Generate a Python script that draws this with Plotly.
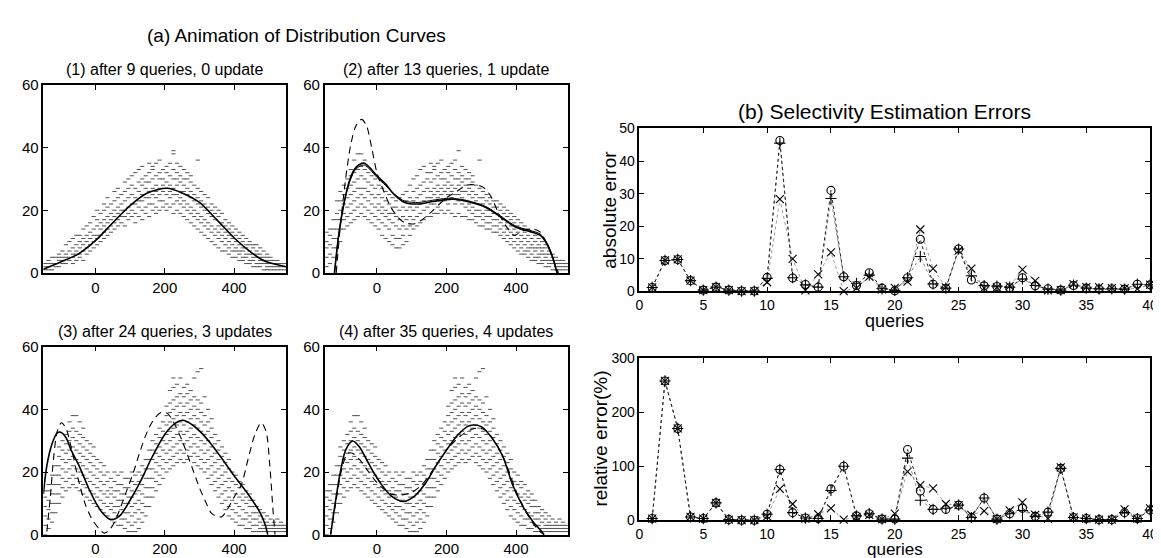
import plotly.graph_objects as go

W, H = 1161, 558
FONT = "Liberation Sans, Arial, Helvetica, sans-serif"

# ---------------- data: left panels (distribution curves) ----------------
cloud_x = list(range(-145, 550, 10))  # column centres of the data-point cloud

cloud_a = [  # panel (1)
    [1,2,3],[1,2,3,4],[1,3,5],[2,3,5],[2,4,5,6],[3,4,5,7],[3,5,6,9],[4,5,7,10],
    [3,5,6,8,11],[4,6,7,9,12],[5,6,8,10,12],[4,7,9,11,14],[6,8,10,12,15],[7,9,11,13,16],
    [8,10,12,14,18],[9,11,12,15,17,20],[10,12,14,16,19],[11,13,15,17,20,22],[12,14,16,18,21,24],
    [13,15,17,19,22],[14,16,18,20,23,26],[15,17,19,21,24,27],[16,18,20,22,25],[15,18,20,23,26,29],
    [17,19,21,24,27,30],[18,20,22,25,28,31],[16,19,22,24,27,32],[18,21,23,26,29,33],
    [17,20,23,25,28,30,34],[19,21,24,27,29,31],[18,22,24,26,29,32,35],[20,22,25,27,30,33,34],
    [19,21,24,26,28,31,35],[20,23,25,27,30,32,36],[21,23,26,28,30,33],[20,22,25,27,29,32,34],
    [21,24,26,28,31,35],[19,22,25,27,30,33,38,39],[20,23,25,28,30,32,35],[19,22,24,26,29,31,34],
    [18,21,23,26,28,30,33],[17,20,22,25,27,30,32],[16,19,21,24,26,29,31],[15,18,20,23,25,28],
    [14,17,19,22,24,27,36],[13,16,18,21,23,26],[12,15,17,20,22,25],[11,14,16,19,21,24],
    [10,13,15,18,20,22],[9,12,14,17,19,21],[8,11,13,15,18,20],[7,10,12,14,16,19],
    [7,9,11,13,15,17],[6,8,10,12,14,16],[5,7,9,11,13,15],[5,7,8,10,12,14],[4,6,7,9,11,13],
    [4,5,7,8,10,12],[3,5,6,8,9,11],[3,4,6,7,9,10],[2,4,5,6,8,9],[2,3,5,6,7,9],[2,3,4,5,6,8],
    [1,3,4,5,7],[1,2,3,4,5,6],[1,2,3,4,5],[1,2,3,4],[1,2,3,4],[1,2,3],[1,2,3],
]

cloud_b = [  # panel (2)
    [2,5,8,10,13],[3,6,9,12,14],[5,8,11,14,17],[8,11,14,17,19,23],[10,14,17,20,23,26],
    [14,17,19,22,25,28],[15,18,21,24,27,30],[16,19,22,25,28,31,33],[17,20,23,26,29,32,36],
    [18,21,24,27,30,33,38],[19,22,25,27,31,34,38],[18,21,24,27,30,33,36],[17,20,23,26,29,32],
    [16,19,22,25,28,31],[15,18,21,24,27,30],[14,17,20,22,25,28],[12,16,19,21,24,27],
    [11,15,18,20,23,26],[10,14,17,19,22,25],[9,12,16,19,21,24],[8,11,15,18,21,23],
    [8,11,14,17,20,24],[9,12,15,18,21,25],[10,14,17,20,23,26],[12,15,18,21,24,28],
    [14,17,20,23,26,30],[15,18,21,24,27,31],[16,19,22,25,28,33],[17,20,23,26,29,34],
    [18,21,24,27,30,32],[18,22,24,26,29,32,35],[19,22,25,27,30,33,34],[19,21,24,26,28,31,35],
    [20,23,25,27,30,32,36],[19,23,26,28,30,33],[20,22,25,27,29,32,34],[19,24,26,28,31,35],
    [18,22,25,27,30,33,36],[19,23,25,28,30,32,39],[18,22,24,26,29,31,34],[18,21,23,26,28,30,33],
    [17,20,22,25,27,30,32],[17,19,21,24,26,29,31],[16,18,20,23,25,28],[15,18,20,22,24,27,36],
    [15,17,19,22,24,26],[14,16,18,20,23,25],[14,16,18,20,22,24],[13,15,17,19,21,23],
    [13,15,17,19,21,23],[12,14,16,18,20,22],[11,13,15,17,19,21],[10,12,14,16,18,20],
    [9,11,13,15,17,19],[8,10,12,14,16,18],[7,9,11,13,15,17],[6,8,10,12,14,16],
    [6,7,9,11,13,15],[5,7,8,10,12,14],[4,6,8,9,11,13],[4,5,7,8,10,12],[3,5,6,8,9,11],
    [3,4,6,7,8,10],[2,4,5,6,8,9],[2,3,4,6,7],[1,3,4,5,6],[1,2,3,4,5],[1,2,3,4],[1,2,3,4],[1,2,3],
]

cloud_c = [  # panels (3) and (4)
    [0,3,6,9,12,14],[2,5,8,11,14,16],[4,7,10,13,16,19],[7,10,13,16,19,22],
    [10,13,16,19,22,25,28],[12,15,18,21,24,27,30],[14,17,20,23,26,29,32],
    [15,18,21,24,27,30,33,36],[16,19,22,25,28,31,34,38],[15,18,21,24,27,30,33,38],
    [14,17,20,23,26,29,32,36],[13,16,19,22,25,28,31,34],[12,15,18,21,24,27,30],
    [11,14,17,20,23,26,29],[10,13,16,19,22,25,28],[9,12,15,18,21,24],[8,11,14,17,20,23],
    [7,10,13,16,19,22],[6,9,12,14,17,20],[5,8,10,13,15,18],[4,7,9,12,14,17,20],
    [3,6,9,11,14,16,19],[3,5,8,11,13,16,20],[2,5,7,10,13,15,18],[1,4,7,10,12,15,18],
    [1,3,6,9,12,14,17,20],[1,4,7,10,13,16,19],[2,5,8,11,14,17,20],[4,7,10,13,16,19,22],
    [6,9,12,15,18,21,24],[9,12,15,18,21,24,27],[12,15,18,21,24,27,30],[14,17,20,23,26,29,32],
    [16,19,22,25,28,31,34],[18,21,24,27,30,33,36],[20,23,26,29,32,35,38,41],
    [21,24,27,30,33,36,39,42,46],[22,25,28,31,34,37,40,43,47,50],[23,26,29,32,35,38,41,44,48],
    [24,27,30,33,36,39,42,45,50],[23,26,29,32,35,38,41,44,47],[24,27,30,33,36,39,42,45,48],
    [25,28,31,34,37,40,43,46],[23,26,29,32,35,38,41,44,50],[22,25,28,31,34,37,40,43,52],
    [21,24,27,30,33,36,39,42,53],[20,23,26,29,32,35,38,44],[18,21,24,27,30,33,36,40],
    [16,19,22,25,28,31,34,37],[14,17,20,23,26,29,32],[12,15,18,21,24,27,30],
    [10,13,16,19,22,25,28],[8,11,14,17,20,23,26],[6,9,12,15,18,21,24],[5,8,11,14,17,20],
    [4,7,10,13,16,19],[3,6,9,12,15,17],[3,5,8,11,13,16],[2,5,7,10,12,14],[2,4,6,9,11,13],
    [1,3,5,7,9,11],[1,3,5,7,9],[1,2,4,6,8],[1,2,3,5,7],[1,2,3,4,6],[1,2,3,5],[1,2,3,4],
    [1,2,3,5],[1,2,3,4],[1,2,3],
]

p1_solid_x = [-150,-100,-50,0,50,100,150,207,250,300,350,402,450,488,550]
p1_solid_y = [1.2,3.5,6,10.3,16,21.5,25.5,27,25.5,22.5,17,11,6.5,3.8,2.0]

p2_solid_x = [-122,-110,-95,-80,-65,-50,-36,-20,0,24,50,80,120,160,200,221,260,315,360,400,440,470,490,505,518]
p2_solid_y = [0,12,22,29,33,34.6,35,33.5,31,28.5,25,22.5,22,22.8,23.4,23.5,22.8,20.8,17.5,14.6,13.2,12,9,5,0]
p2_solid2_y = [0,12,22,28.5,32.5,34,34.4,33,30.5,28,25.2,22.9,22.5,23.2,23.8,23.8,23.1,21.1,17.8,14.9,13.6,12.4,9.4,5.2,0]
p2_dash_x = [-117,-105,-90,-75,-60,-44,-30,-15,0,20,40,61,80,108,130,155,180,200,230,258,290,310,330,350,376,395,420,450,470,490,505,522]
p2_dash_y = [0,15,30,41,47,49,47,40,32,26,21,17.7,16,15.7,17,19.3,22,24,26,28,28,27,24,19,14.2,12,13.5,14,13,9,5,0]

p3_solid_x = [-150,-140,-125,-110,-100,-85,-70,-46,-20,0,20,44,70,100,130,160,200,230,252,280,310,333,370,400,440,476,490,497]
p3_solid_y = [13,22,29,32.5,32.7,31,27,21.7,15,10.5,7,4.8,6,11,17,24,32,35.5,36.5,35,32,29,23.5,18.8,13,6.8,3,0]
p3_dash_x = [-140,-130,-120,-110,-98,-85,-70,-50,-30,-10,10,26,40,55,70,90,110,130,150,170,190,207,225,250,278,300,320,335,350,364,380,400,421,440,460,478,492,503,512,518]
p3_dash_y = [1,12,25,33,35.7,34,28,18,10,5,2,0.5,1.5,4,8,14,20,27,33,37,39,38.8,36,30,21.7,15,10,6.8,5.9,5.7,8,12,16,24,32,35.7,33,22,8,0]

p4_solid_x = [-133,-120,-105,-90,-70,-50,-30,-10,10,40,76,110,140,170,200,230,260,277,300,330,362,391,420,450,470,481]
p4_solid_y = [0,10,20,27,29.9,28,24,20,16.5,12.5,10.6,12.5,16.5,22,27,31.5,34.5,35,34.5,31,25,15.7,9,4,1.5,0]
p4_dash_x = [-133,-120,-105,-90,-84,-70,-50,-30,-10,10,40,71,100,130,160,200,240,270,290,310,340,370,400,430,460,480]
p4_dash_y = [0,9,19,25,26,26,24,21,18,15.5,13,12.7,13.5,16,20.5,27,31.5,33.5,34,33.5,29.5,23,14,7,2,0]

# ---------------- data: right panels (estimation errors) ----------------
queries = list(range(1, 41))
abs_o = [1.2,9.5,9.8,3.3,0.4,1.3,0.4,0.1,0.1,4.3,46.3,4.1,2.1,1.3,31,4.5,1.8,5.7,1.0,0.2,
         4.2,16,2.2,0.9,13,3.5,1.7,1.5,1.1,4.2,1.7,0.8,0.4,1.8,1.0,0.7,0.8,0.7,2.2,2.0]
abs_p = [1.2,9.5,9.8,3.3,0.4,1.3,0.4,0.1,0.1,4.0,45.5,4.2,2.0,1.3,28.5,4.5,2.5,5.0,0.8,0.3,
         4.2,10.7,2.3,1.0,13,4.8,1.8,1.6,1.3,3.8,1.8,0.7,0.4,1.9,1.0,0.8,0.8,0.7,2.2,2.0]
abs_x = [1.2,9.5,9.8,3.3,0.4,1.3,0.4,0.1,0.1,2.8,28.3,10.0,0.3,5.2,12,0.1,1.0,4.5,0.6,1.1,
         3.0,19,7.0,1.2,12.5,7.0,1.0,1.2,1.6,6.7,3.2,0.3,0.4,2.2,1.3,1.3,1.0,0.9,0.8,2.1]
rel_o = [3,258,170,6,3,32,1,0,0,11,94,14,4,3,58,100,8,12,2,2,
         131,54,20,20,28,5,41,2,12,22,7,15,96,5,3,1,1,14,3,19]
rel_p = [3,258,170,6,3,32,1,0,0,11,94,14,4,3,55,100,8,12,2,2,
         115,37,20,22,28,5,41,2,12,18,7,15,96,5,3,1,1,14,3,19]
rel_x = [3,258,170,6,3,32,1,0,0,7,58,30,3,11,22,1,6,10,2,12,
         90,65,59,30,28,10,17,2,18,33,10,3,98,5,3,1,1,20,3,22]

# ---------------- layout geometry (pixels) ----------------
def px_x(a, b):
    return [a / W, b / W]

def px_y(top, bottom):
    return [1 - bottom / H, 1 - top / H]

L1 = (31.7, 277)
L2 = (316, 562)
T1 = (70, 264)
T2 = (340, 534)
R = (634, 1150)
RT = (115, 283)
RB = (352, 519)

fig = go.Figure()

def axis(dom, rng, tickvals, size):
    return dict(domain=dom, range=rng, tickvals=tickvals, ticks="inside", ticklen=5,
                tickwidth=1, tickcolor="black", mirror="allticks", showline=True,
                linecolor="black", linewidth=1.5, showgrid=False, zeroline=False,
                tickfont=dict(family=FONT, size=size, color="black"), fixedrange=True)

panels = [
    ("x", "y", L1, T1),
    ("x2", "y2", L2, T1),
    ("x3", "y3", L1, T2),
    ("x4", "y4", L2, T2),
]
layout_axes = {}
for i, (xa, ya, (xl, xr), (yt, yb)) in enumerate(panels, start=1):
    k = "" if i == 1 else str(i)
    layout_axes["xaxis" + k] = axis(px_x(xl, xr), [-150, 550], [0, 200, 400], 15)
    layout_axes["xaxis" + k]["anchor"] = ya
    layout_axes["yaxis" + k] = axis(px_y(yt, yb), [0, 60], [0, 20, 40, 60], 15)
    layout_axes["yaxis" + k]["anchor"] = xa

layout_axes["xaxis5"] = axis(px_x(*R), [0, 40], list(range(0, 41, 5)), 14)
layout_axes["xaxis5"]["anchor"] = "y5"
layout_axes["yaxis5"] = axis(px_y(*RT), [0, 50], [0, 10, 20, 30, 40, 50], 14)
layout_axes["yaxis5"]["anchor"] = "x5"
layout_axes["xaxis6"] = axis(px_x(*R), [0, 40], list(range(0, 41, 5)), 14)
layout_axes["xaxis6"]["anchor"] = "y6"
layout_axes["yaxis6"] = axis(px_y(*RB), [0, 300], [0, 100, 200, 300], 14)
layout_axes["yaxis6"]["anchor"] = "x6"

def add_cloud(cloud, xa, ya):
    xs, ys = [], []
    for cx, col in zip(cloud_x, cloud):
        for v in col:
            xs.append(cx)
            ys.append(v)
    fig.add_trace(go.Scatter(x=xs, y=ys, xaxis=xa, yaxis=ya, mode="markers",
                             marker=dict(symbol="line-ew", size=3, color="#333",
                                         line=dict(width=1, color="#333")),
                             opacity=0.85, hoverinfo="skip"))

def add_curve(x, y, xa, ya, dash=None, width=1.6):
    fig.add_trace(go.Scatter(x=x, y=y, xaxis=xa, yaxis=ya, mode="lines",
                             line=dict(color="black", width=width, shape="spline",
                                       smoothing=0.8, dash=dash),
                             hoverinfo="skip"))

add_cloud(cloud_a, "x", "y")
add_cloud(cloud_b, "x2", "y2")
add_cloud(cloud_c, "x3", "y3")
add_cloud(cloud_c, "x4", "y4")

add_curve(p1_solid_x, p1_solid_y, "x", "y")
add_curve(p2_dash_x, p2_dash_y, "x2", "y2", dash="7px,5px", width=1.1)
add_curve(p2_solid_x, p2_solid2_y, "x2", "y2", width=1.0)
add_curve(p2_solid_x, p2_solid_y, "x2", "y2")
add_curve(p3_dash_x, p3_dash_y, "x3", "y3", dash="7px,5px", width=1.1)
add_curve(p3_solid_x, p3_solid_y, "x3", "y3")
add_curve(p4_dash_x, p4_dash_y, "x4", "y4", dash="7px,5px", width=1.1)
add_curve(p4_solid_x, p4_solid_y, "x4", "y4")

def add_err(y, xa, ya, symbol, lcolor):
    fig.add_trace(go.Scatter(x=queries, y=y, xaxis=xa, yaxis=ya, mode="lines+markers",
                             line=dict(color=lcolor, width=1, dash="dot"),
                             marker=dict(symbol=symbol, size=8, color="black",
                                         line=dict(width=1.1, color="black")),
                             cliponaxis=False, hoverinfo="skip"))

for (yo, yp, yx, xa, ya) in [(abs_o, abs_p, abs_x, "x5", "y5"), (rel_o, rel_p, rel_x, "x6", "y6")]:
    add_err(yx, xa, ya, "x-thin-open", "#999")
    add_err(yp, xa, ya, "cross-thin-open", "#888")
    add_err(yo, xa, ya, "circle-open", "#222")

def ann(text, x, y, size, angle=0):
    return dict(text=text, x=x / W, y=1 - y / H, xref="paper", yref="paper",
                showarrow=False, xanchor="center", yanchor="middle", textangle=angle,
                font=dict(family=FONT, size=size, color="black"))

annotations = [
    ann("(a) Animation of Distribution Curves", 287, 19, 19),
    ann("(1) after 9 queries, 0 update", (L1[0] + L1[1]) / 2, 54, 16),
    ann("(2) after 13 queries, 1 update", (L2[0] + L2[1]) / 2, 54, 16),
    ann("(3) after 24 queries, 3 updates", (L1[0] + L1[1]) / 2, 324, 16),
    ann("(4) after 35 queries, 4 updates", (L2[0] + L2[1]) / 2, 324, 16),
    ann("(b) Selectivity Estimation Errors", 882, 97, 21),
    ann("absolute error", 604, 199, 19, -90),
    ann("relative error(%)", 595, 435, 19, -90),
    ann("queries", 892, 314, 18),
    ann("queries", 892, 549, 17),
]

fig.update_layout(width=W, height=H, margin=dict(l=0, r=0, t=0, b=0),
                  paper_bgcolor="white", plot_bgcolor="white", showlegend=False,
                  annotations=annotations, **layout_axes)

fig.write_html("out.html")
